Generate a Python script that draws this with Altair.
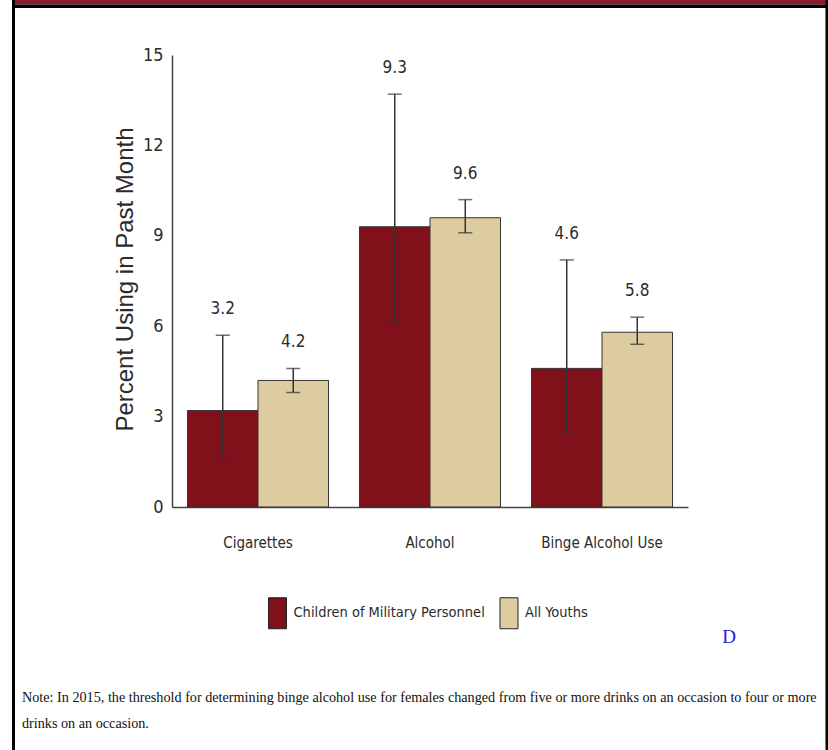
import altair as alt
import pandas as pd

# Past-month substance use, children of military personnel vs. all youths
categories = ["Cigarettes", "Alcohol", "Binge Alcohol Use"]
groups = ["Children of Military Personnel", "All Youths"]
group_colors = ["#80111b", "#ddcc9f"]

military = [3.2, 9.3, 4.6]
military_low = [1.7, 6.1, 2.5]
military_high = [5.7, 13.7, 8.2]

youths = [4.2, 9.6, 5.8]
youths_low = [3.8, 9.1, 5.4]
youths_high = [4.6, 10.2, 6.3]

y_ticks = [0, 3, 6, 9, 12, 15]

note_lines = [
    "Note: In 2015, the threshold for determining binge alcohol use for females changed from five or more drinks on an occasion to four or more",
    "drinks on an occasion.",
]

rows = []
for i, cat in enumerate(categories):
    rows.append(dict(category=cat, group=groups[0], value=military[i],
                     lo=military_low[i], hi=military_high[i]))
    rows.append(dict(category=cat, group=groups[1], value=youths[i],
                     lo=youths_low[i], hi=youths_high[i]))
df = pd.DataFrame(rows)

NARROW = "DejaVu Sans Condensed, Liberation Sans, sans-serif"
SANS = "Liberation Sans, Arial, sans-serif"
SERIF = "Liberation Serif, Times New Roman, serif"
INK = "#2b2b2b"

# plot area geometry inside the 828x750 canvas
PAD_L, PAD_T, PAD_R, PAD_B = 172, 55, 140, 243
W = 828 - PAD_L - PAD_R
H = 750 - PAD_T - PAD_B

x_enc = alt.X(
    "category:N",
    sort=categories,
    scale=alt.Scale(paddingInner=0.18, paddingOuter=0.09),
    axis=alt.Axis(
        title=None, labelAngle=0, ticks=False, domain=True,
        domainColor="#444", domainWidth=1.5,
        labelFont=NARROW, labelFontSize=15, labelColor=INK,
        labelPadding=35, labelBaseline="middle",
    ),
)
xo_enc = alt.XOffset("group:N", sort=groups,
                     scale=alt.Scale(paddingInner=0, paddingOuter=0))
y_scale = alt.Scale(domain=[0, 15], nice=False)

y_axis = alt.Axis(
    values=y_ticks, ticks=False, grid=False, domain=True,
    domainColor="#444", domainWidth=1.5,
    labelFont=NARROW, labelFontSize=18, labelColor=INK,
    labelPadding=9,
    title="Percent Using in Past Month",
    titleFont=SANS, titleFontSize=24, titleFontWeight="normal",
    titleColor=INK, titleAngle=-90, titleX=-47, titleY=224,
    titleAlign="center", titleBaseline="middle",
)

base = alt.Chart(df).encode(x=x_enc, xOffset=xo_enc)

rect_path = "M-0.58,-1H0.58V1H-0.58Z"

bars = base.mark_bar(stroke="#333333", strokeWidth=1).encode(
    y=alt.Y("value:Q", scale=y_scale, axis=y_axis),
    color=alt.Color(
        "group:N", sort=groups,
        scale=alt.Scale(domain=groups, range=group_colors),
        legend=alt.Legend(
            title=None, orient="none", direction="horizontal",
            legendX=89.5, legendY=542, padding=0,
            symbolType=rect_path, symbolSize=961,
            symbolStrokeColor="#222222", symbolStrokeWidth=1,
            symbolOpacity=1,
            labelFont=NARROW, labelFontSize=14.5, labelColor=INK,
            labelOffset=0, columnPadding=7.5, labelLimit=0,
        ),
    ),
)

whisker = base.mark_rule(color="#333333", strokeWidth=1.5).encode(
    y=alt.Y("lo:Q", scale=y_scale, axis=y_axis), y2="hi:Q"
)
cap_hi = base.mark_tick(color="#333333", size=14, thickness=1.5).encode(
    y=alt.Y("hi:Q", scale=y_scale, axis=y_axis)
)
cap_lo = base.mark_tick(color="#333333", size=14, thickness=1.5).encode(
    y=alt.Y("lo:Q", scale=y_scale, axis=y_axis)
)
value_labels = base.mark_text(
    font=NARROW, fontSize=17, color=INK, baseline="middle", dy=-26
).encode(
    y=alt.Y("hi:Q", scale=y_scale, axis=y_axis),
    text=alt.Text("value:Q", format=".1f"),
)

# page frame: red header band with black rule, side borders
frame_df = pd.DataFrame({"k": [0]})
frame = alt.Chart(frame_df)
header_red = frame.mark_rect(color="#8c1c2c").encode(
    x=alt.value(-PAD_L + 12), x2=alt.value(W + PAD_R),
    y=alt.value(-PAD_T), y2=alt.value(-PAD_T + 4.5),
)
header_black = frame.mark_rect(color="#000000").encode(
    x=alt.value(-PAD_L + 12), x2=alt.value(W + PAD_R),
    y=alt.value(-PAD_T + 4.5), y2=alt.value(-PAD_T + 8),
)
left_border = frame.mark_rule(color="#000000", strokeWidth=3).encode(
    x=alt.value(-PAD_L + 13.5), y=alt.value(-PAD_T), y2=alt.value(H + PAD_B)
)
right_border = frame.mark_rule(color="#000000", strokeWidth=3).encode(
    x=alt.value(W + PAD_R - 1), y=alt.value(-PAD_T), y2=alt.value(H + PAD_B)
)

marker_d = frame.mark_text(
    text="D", font=SERIF, fontSize=19, color="#2020e8",
    align="center", baseline="middle",
).encode(x=alt.value(729 - PAD_L), y=alt.value(637 - PAD_T))

note_df = pd.DataFrame({"line": note_lines, "row": [0, 1]})
note = alt.Chart(note_df).mark_text(
    font=SERIF, fontSize=14.2, color="#111111", align="left", baseline="middle",
).encode(text="line:N", x=alt.value(22 - PAD_L))
note1 = note.transform_filter("datum.row == 0").encode(y=alt.value(698 - PAD_T))
note2 = note.transform_filter("datum.row == 1").encode(y=alt.value(724 - PAD_T))

chart = alt.layer(
    bars, whisker, cap_hi, cap_lo, value_labels,
    header_red, header_black, left_border, right_border,
    marker_d, note1, note2,
).properties(
    width=W, height=H,
    autosize=alt.AutoSizeParams(type="none"),
    padding={"left": PAD_L, "top": PAD_T, "right": PAD_R, "bottom": PAD_B},
    background="white",
).configure_view(stroke=None)

chart.save("out.html", embed_options={"renderer": "svg", "actions": False})
